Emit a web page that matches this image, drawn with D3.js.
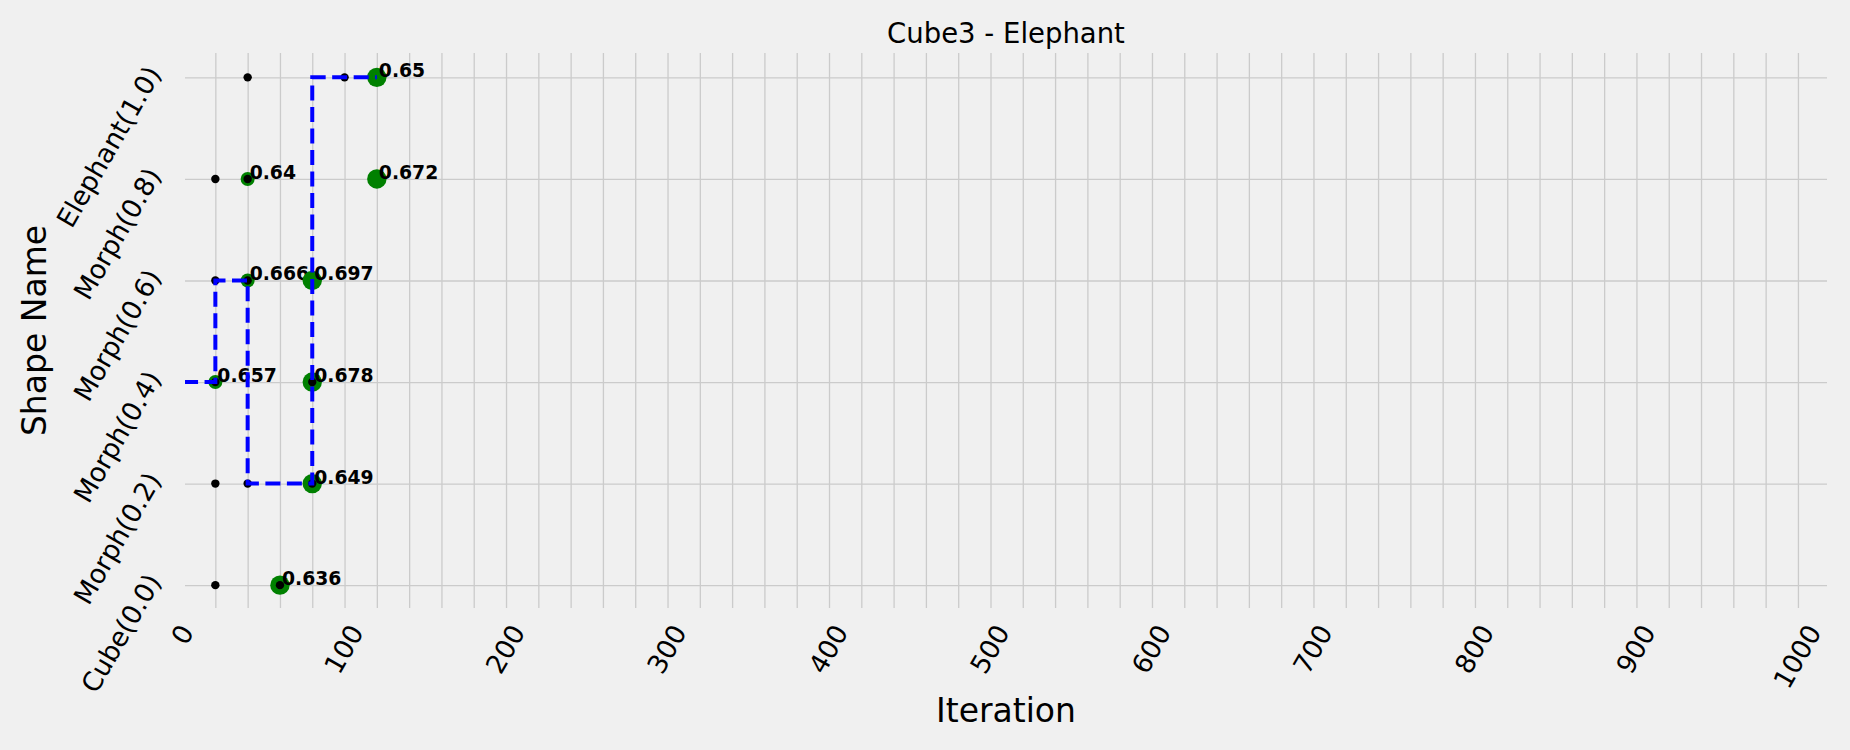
<!DOCTYPE html>
<html>
<head>
<meta charset="utf-8">
<script src="https://cdn.jsdelivr.net/npm/d3@7"></script>
<style>
  html, body { margin: 0; padding: 0; background: #f0f0f0; }
  svg { display: block; font-family: "DejaVu Sans", sans-serif; }
</style>
</head>
<body>
<svg></svg>
<script>
// Shapes on the y axis (value = morph weight)
const shapeNames = ["Cube(0.0)", "Morph(0.2)", "Morph(0.4)", "Morph(0.6)", "Morph(0.8)", "Elephant(1.0)"];
const shapeValues = [0.0, 0.2, 0.4, 0.6, 0.8, 1.0];
const xTickValues = [0, 100, 200, 300, 400, 500, 600, 700, 800, 900, 1000];

// Evaluated points (black dots)
const evalIteration = [20, 60, 20, 40, 80, 20, 80, 20, 40, 20, 40, 40, 100];
const evalShape     = [0.0, 0.0, 0.2, 0.2, 0.2, 0.4, 0.4, 0.6, 0.6, 0.8, 0.8, 1.0, 1.0];

// Best score per shape (green dots + labels)
const bestIteration = [60, 80, 20, 80, 40, 80, 40, 120, 120];
const bestShape     = [0.0, 0.2, 0.4, 0.4, 0.6, 0.6, 0.8, 0.8, 1.0];
const bestScore     = [0.636, 0.649, 0.657, 0.678, 0.666, 0.697, 0.64, 0.672, 0.65];

// Selected shape path (blue dashed step line)
const pathIteration = [0, 20, 40, 80, 120];
const pathShape     = [0.4, 0.6, 0.2, 1.0, 1.0];

const width = 1850, height = 750;
const plot = { left: 185, right: 1827, top: 53, bottom: 608 };

const svg = d3.select("svg")
    .attr("width", width)
    .attr("height", height);

svg.append("rect").attr("width", width).attr("height", height).attr("fill", "#f0f0f0");

// Scales
const xScale = d3.scaleLinear().domain([1.2, 1018]).range([plot.left, plot.right]);
const yScale = d3.scaleLinear().domain([-0.045, 1.048]).range([plot.bottom, plot.top]);
const greenRadius = d3.scaleThreshold().domain([50]).range([7, 9.7]);

svg.append("clipPath").attr("id", "plot-clip")
  .append("rect")
    .attr("x", plot.left).attr("y", plot.top)
    .attr("width", plot.right - plot.left).attr("height", plot.bottom - plot.top);

// Grid
const xGrid = svg.append("g")
    .attr("transform", `translate(0,${plot.bottom})`)
    .call(d3.axisBottom(xScale).tickValues(d3.range(20, 1001, 20))
        .tickSize(-(plot.bottom - plot.top)).tickFormat(""));
const yGrid = svg.append("g")
    .attr("transform", `translate(${plot.left},0)`)
    .call(d3.axisLeft(yScale).tickValues(shapeValues)
        .tickSize(-(plot.right - plot.left)).tickFormat(""));
[xGrid, yGrid].forEach(g => {
    g.select(".domain").remove();
    g.selectAll("line").attr("stroke", "#cbcbcb").attr("stroke-width", 1.3);
});

// Rotated tick labels (60 degrees)
const ang = Math.PI / 3;
function rotatedBox(node) {
    const b = node.getBBox();
    return {
        W: b.width * Math.cos(ang) + b.height * Math.sin(ang),
        H: b.width * Math.sin(ang) + b.height * Math.cos(ang)
    };
}

svg.append("g").selectAll("text")
    .data(xTickValues)
    .join("text")
    .attr("text-anchor", "middle")
    .attr("dy", "0.32em")
    .style("font-size", "26.5px")
    .attr("fill", "#000")
    .text(d => d)
    .each(function(d) {
        const r = rotatedBox(this);
        d3.select(this).attr("transform",
            `translate(${xScale(d)},${plot.bottom + 12 + r.H / 2}) rotate(-60)`);
    });

svg.append("g").selectAll("text")
    .data(shapeValues)
    .join("text")
    .attr("text-anchor", "middle")
    .attr("dy", "0.32em")
    .style("font-size", "26.5px")
    .attr("fill", "#000")
    .text((d, i) => shapeNames[i])
    .each(function(d) {
        const r = rotatedBox(this);
        d3.select(this).attr("transform",
            `translate(${168 - r.W / 2},${yScale(d) - 16 + r.H / 2}) rotate(-60)`);
    });

// Green best points with score labels
const bestData = bestIteration.map((it, i) => ({ it, shape: bestShape[i], score: bestScore[i] }));
const bestG = svg.append("g");
bestData.forEach(d => {
    bestG.append("circle")
        .attr("cx", xScale(d.it))
        .attr("cy", yScale(d.shape))
        .attr("r", greenRadius(d.it))
        .attr("fill", "#008000");
    bestG.append("text")
        .attr("x", xScale(d.it) + 2)
        .attr("y", yScale(d.shape))
        .style("font-size", "18.8px")
        .style("font-weight", "bold")
        .attr("fill", "#000")
        .text(d.score);
});

// Black evaluated points
svg.append("g").selectAll("circle")
    .data(evalIteration.map((it, i) => ({ it, shape: evalShape[i] })))
    .join("circle")
    .attr("cx", d => xScale(d.it))
    .attr("cy", d => yScale(d.shape))
    .attr("r", 4.2)
    .attr("fill", "#000");

// Blue dashed step path
const line = d3.line()
    .x(d => xScale(d.it))
    .y(d => yScale(d.shape))
    .curve(d3.curveStepAfter);

svg.append("path")
    .datum(pathIteration.map((it, i) => ({ it, shape: pathShape[i] })))
    .attr("clip-path", "url(#plot-clip)")
    .attr("d", line)
    .attr("fill", "none")
    .attr("stroke", "#0000ff")
    .attr("stroke-width", 4)
    .attr("stroke-dasharray", "15,6.5");

// Title and axis labels
svg.append("text")
    .attr("x", (plot.left + plot.right) / 2)
    .attr("y", 43)
    .attr("text-anchor", "middle")
    .style("font-size", "27.5px")
    .attr("fill", "#000")
    .text("Cube3 - Elephant");

svg.append("text")
    .attr("x", (plot.left + plot.right) / 2)
    .attr("y", 722)
    .attr("text-anchor", "middle")
    .style("font-size", "33px")
    .attr("fill", "#000")
    .text("Iteration");

svg.append("text")
    .attr("transform", "rotate(-90)")
    .attr("x", -(plot.top + plot.bottom) / 2)
    .attr("y", 46)
    .attr("text-anchor", "middle")
    .style("font-size", "33px")
    .attr("fill", "#000")
    .text("Shape Name");
</script>
</body>
</html>
